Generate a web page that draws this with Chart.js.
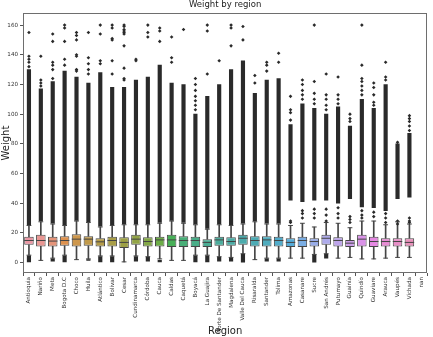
<!DOCTYPE html>
<html><head><meta charset="utf-8">
<script src="https://cdn.jsdelivr.net/npm/chart.js@4.4.1/dist/chart.umd.min.js"></script>
<style>html,body{margin:0;padding:0;background:#fff;}canvas{display:block;}</style>
</head><body>
<canvas id="c" width="433" height="337"></canvas>
<script>
const CATEGORIES = ['Antioquia','Nariño','Meta','Bogota D.C','Choco','Huila','Atlántico','Bolivar','Cesar','Cundinamarca','Córdoba','Cauca','Caldas','Caquetá','Boyacá','La Guajira','Norte De Santander','Magdalena','Valle Del Cauca','Risaralda','Santander','Tolima','Amazonas','Casanare','Sucre','San Andrés','Putumayo','Guainía','Quindío','Guaviare','Arauca','Vaupés','Vichada','nan'];
const Q1     = [12,10.9,10.9,11.3,10.9,11.3,10.9,10.9,9.8,12,10.9,10.9,10.5,10.5,10.5,10.5,11.3,11.3,12,10.9,10.9,10.9,10.5,10.5,10.9,12,10.9,10.5,10.9,10.5,10.9,10.9,10.9,null];
const MEDIAN = [14.9,14.9,14.5,14.9,15.8,15.8,14,14.9,13.6,15.8,14.2,15.3,15.3,14.9,14.9,13.6,15.3,14.2,16.4,14.9,15.3,14.9,13.6,14.9,14.2,16.4,14.9,13.1,15.8,14.2,14.2,14.2,13.6,null];
const Q3     = [17.5,18.7,17.5,17.8,19.1,17.8,16.4,17.5,17,18.7,17,17.5,18.7,17.8,17.5,15.8,17.5,17,18.7,17.8,17.8,17.5,16.4,17.5,16.4,18.7,17,15.3,18.7,17.5,16.4,16.4,16.4,null];
const W_LO   = [5,1.5,3,5,2,2.5,4.5,4.5,0.5,4.5,4,2.5,1.5,1.5,5,5,4,3.5,6,2,3,3,3,3,5.5,6,3,3.5,2.5,2.5,3,3.5,3.5,null];
const W_HI   = [25,27.5,26,25,28,27,24,25,25.5,25.5,25.5,26.5,28,26.5,25.5,22.5,25.5,25,26,27.5,26,26,25,26.5,24,27,26.5,23.5,28,28,25.5,27.5,26,null];
const DENSE_LO = [25.5,28,26.5,25.5,28.5,27.5,24.5,25.5,26,26,26,27,28.5,27,26,23,26,25.5,26.5,28,26.5,26.5,42,41,42,42,40,43,37.5,37,35,43,44,null];
const DENSE_HI = [130,117,122,129,125,121,128,118,118,123,125,133,121,120,100,112,120,130,136,114,123,124,93,107,104,100,105,92,110,104,120,80,87,null];
const SPARSE_OUT = [
  [155,139,137,135,132],[139,123,121,119],[154,149,135,133,130,124],[160,158,149,137,133],
  [155,153,150,140,139,130,129],[155,138,134,130,127],[160,154,136,134],[160,158,151,150,136,127],
  [160,159,157,156,155,154,146,131,124,123],[137,136],[160,155,152],[158,156,149],[152,138,135],[157],
  [124,120,116,112,109,106,103],[160,156,127],[136],[160,158,146],[159,150],[126,121],[135,133,129],[141,135],
  [112,103,101,96,28,27],[123,120,116,113,110,35,33,30],[160,122,114,110,107,36,33,30],[127,113,110,106,103,36,32,28],
  [125,113,110,107,37,33,30],[100,97,95,31,29,27],[160,133,124,122,119,116,113,35,32,30],[121,118,113,108,106,34,31],
  [135,125,123,33,30,27],[81,28,26],[99,97,95,92,89,30,28,27],[]
];
const LOW_OUT_LO = [0.5,null,1,0.5,null,1.5,0.5,0.5,null,1,1,0.5,null,null,0.5,0.5,1,1,0,null,1,1,null,null,0,3,null,null,null,null,null,null,null,null];
const LOW_OUT_HI = [4.5,null,2.5,4.5,null,2,4,4,null,4,3.5,1.5,null,null,4.5,4.5,3.5,3,5.5,null,2.5,2.5,null,null,5,5.5,null,null,null,null,null,null,null,null];
const Y_TICKS = [0,20,40,60,80,100,120,140,160];

// seaborn-like husl palette, desaturated
function huslToRgb(h, s, l) {
  const m = [[3.2406,-1.5372,-0.4986],[-0.9689,1.8758,0.0415],[0.0557,-0.2040,1.0570]];
  const refU=0.19784, refV=0.46834, kappa=903.2963, eps=0.0088564;
  const hrad=h/180*Math.PI, sinH=Math.sin(hrad), cosH=Math.cos(hrad);
  const sub1=Math.pow(l+16,3)/1560896, sub2=sub1>eps?sub1:l/kappa;
  let mx=Infinity;
  for (const [m1,m2,m3] of m) {
    const top=(0.99915*m1+1.05122*m2+1.14460*m3)*sub2;
    const rb=0.86330*m3-0.17266*m2, lb=0.12949*m3-0.38848*m1;
    const bottom=(rb*sinH+lb*cosH)*sub2;
    for (const t of [0,1]) { const C=l*(top-1.05122*t)/(bottom+0.17266*sinH*t); if (C>0&&C<mx) mx=C; }
  }
  const C=mx/100*s, U=Math.cos(hrad)*C, V=Math.sin(hrad)*C;
  const Y=l>8?Math.pow((l+16)/116,3):l/kappa;
  const vU=U/(13*l)+refU, vV=V/(13*l)+refV;
  const X=-(9*Y*vU)/((vU-4)*vV-vU*vV);
  const Z=(9*Y-15*vV*Y-vV*X)/(3*vV);
  return m.map(r=>{const c=r[0]*X+r[1]*Y+r[2]*Z; const v=c<=0.0031308?12.92*c:1.055*Math.pow(c,1/2.4)-0.055; return Math.min(1,Math.max(0,v));});
}
function rgbToHls(r,g,b){const mx=Math.max(r,g,b),mn=Math.min(r,g,b),l=(mx+mn)/2;if(mx===mn)return[0,l,0];const d=mx-mn;const s=l<=0.5?d/(mx+mn):d/(2-mx-mn);const rc=(mx-r)/d,gc=(mx-g)/d,bc=(mx-b)/d;let h;if(r===mx)h=bc-gc;else if(g===mx)h=2+rc-bc;else h=4+gc-rc;h=((h/6)%1+1)%1;return[h,l,s];}
function _v(m1,m2,h){h=((h%1)+1)%1;if(h<1/6)return m1+(m2-m1)*h*6;if(h<0.5)return m2;if(h<2/3)return m1+(m2-m1)*(2/3-h)*6;return m1;}
function hlsToRgb(h,l,s){if(s===0)return[l,l,l];const m2=l<=0.5?l*(1+s):l+s-l*s,m1=2*l-m2;return[_v(m1,m2,h+1/3),_v(m1,m2,h),_v(m1,m2,h-1/3)];}
const N = CATEGORIES.length;
const rgbList = [];
for (let i=0;i<N;i++){ const hue=((i/N+0.01)%1)*359; const c=huslToRgb(hue,0.9*99,0.7*99); const [hh,ll,ss]=rgbToHls(...c); rgbList.push(hlsToRgb(hh,ll,ss*0.75)); }
const toCss=c=>'rgb('+c.map(v=>Math.round(v*255)).join(',')+')';
const BOX_COLORS = rgbList.map(toCss);
const lum = Math.min(...rgbList.map(c=>rgbToHls(...c)[1]))*0.6;
const GRAY = toCss([lum,lum,lum]);
const DOT = '#2a2a2a';

const pts = (arr) => arr.map((v,i)=> v==null?null:{x:CATEGORIES[i], y:v}).filter(p=>p);
const sparsePts = [];
SPARSE_OUT.forEach((list,i)=>list.forEach(v=>sparsePts.push({x:CATEGORIES[i],y:v})));
const capPts = pts(W_LO).concat(pts(W_HI));

const frame = { id:'frame', afterDatasetsDraw(chart){ const a=chart.chartArea, ctx=chart.ctx; ctx.save(); ctx.strokeStyle='#6e6e6e'; ctx.lineWidth=1; ctx.strokeRect(Math.round(a.left)+0.5, Math.round(a.top)+0.5, Math.round(a.right-a.left)-1, Math.round(a.bottom-a.top)-1); ctx.restore(); } };

new Chart(document.getElementById('c'), {
  type:'bar',
  data:{
    labels:CATEGORIES,
    datasets:[
      {type:'bar', data:Q1.map((v,i)=>v==null?null:[v,Q3[i]]), backgroundColor:BOX_COLORS, borderColor:GRAY, borderWidth:1, borderSkipped:false, barPercentage:0.8, categoryPercentage:1, grouped:false, order:1},
      {type:'bar', data:W_HI.map((v,i)=>v==null?null:[Q3[i],v]), backgroundColor:GRAY, barThickness:1, grouped:false, order:4},
      {type:'bar', data:W_LO.map((v,i)=>v==null?null:[v,Q1[i]]), backgroundColor:GRAY, barThickness:1, grouped:false, order:4},
      {type:'bar', data:DENSE_LO.map((v,i)=>v==null?null:[v,DENSE_HI[i]]), backgroundColor:DOT, barThickness:3.5, grouped:false, order:3},
      {type:'bar', data:LOW_OUT_LO.map((v,i)=>v==null?null:[v,LOW_OUT_HI[i]]), backgroundColor:DOT, barThickness:3.5, grouped:false, order:3},
      {type:'line', data:capPts, showLine:false, pointStyle:'line', pointRadius:2.4, pointBorderColor:GRAY, pointBorderWidth:1, order:2},
      {type:'line', data:pts(MEDIAN), showLine:false, pointStyle:'line', pointRadius:4.75, pointBorderColor:GRAY, pointBorderWidth:1, order:0},
      {type:'line', data:sparsePts, showLine:false, pointStyle:'rectRot', pointRadius:1.8, pointBackgroundColor:DOT, pointBorderColor:DOT, pointBorderWidth:0, order:3}
    ]
  },
  options:{
    responsive:false, animation:false, devicePixelRatio:1, events:[],
    layout:{padding:{left:0,right:5,top:0,bottom:0}},
    plugins:{
      legend:{display:false}, tooltip:{enabled:false},
      title:{display:true, text:'Weight by region', fullSize:false, color:'#222', font:{family:'DejaVu Sans', size:8.5, weight:'normal'}, padding:{top:0,bottom:3}}
    },
    scales:{
      x:{
        grid:{display:true, drawOnChartArea:false, drawTicks:true, tickLength:3, color:'#555'},
        border:{display:false},
        ticks:{autoSkip:false, minRotation:90, maxRotation:90, padding:1, color:'#333', font:{family:'DejaVu Sans', size:5.6}},
        title:{display:true, text:'Region', color:'#222', font:{family:'DejaVu Sans', size:10}, padding:{top:0,bottom:0}},
        afterFit(s){ s.height = 64; }
      },
      y:{
        min:-7, max:168,
        grid:{display:true, drawOnChartArea:false, drawTicks:true, tickLength:3, color:'#555'},
        border:{display:false},
        ticks:{padding:2, color:'#333', font:{family:'DejaVu Sans', size:5.6}},
        afterBuildTicks(s){ s.ticks = Y_TICKS.map(v=>({value:v})); },
        title:{display:true, text:'Weight', color:'#222', font:{family:'DejaVu Sans', size:10}, padding:{top:0,bottom:0}},
        afterFit(s){ s.width = 23; }
      }
    }
  },
  plugins:[frame]
});
</script>
</body></html>
